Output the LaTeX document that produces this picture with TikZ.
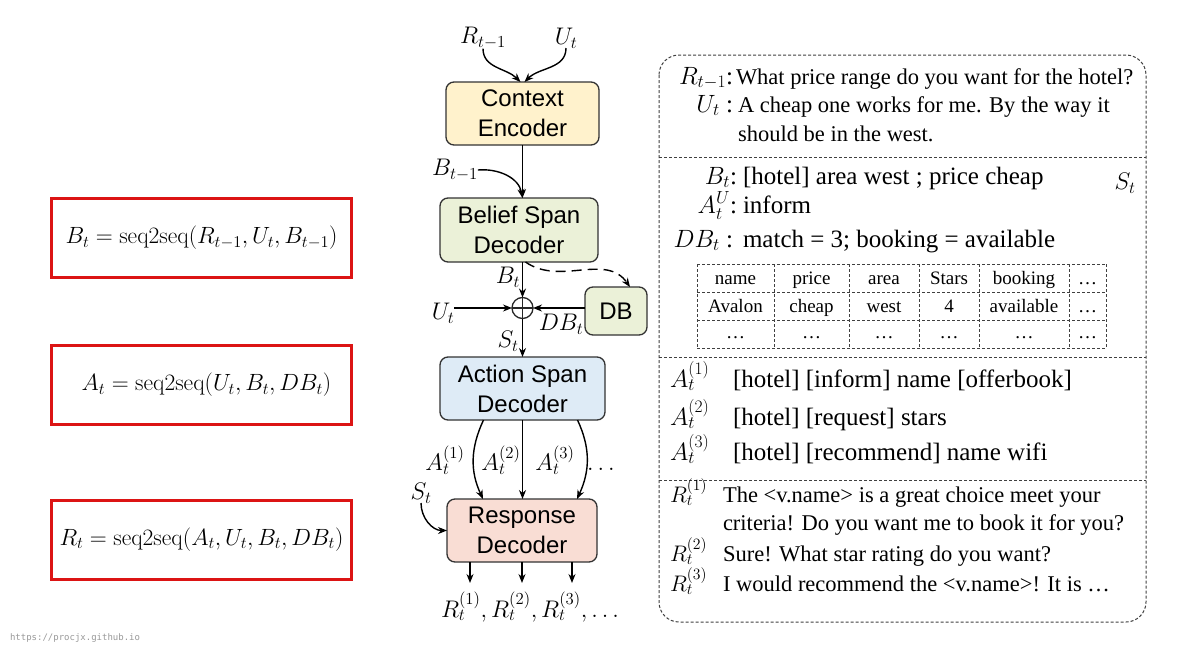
\RequirePackage{fix-cm}
\documentclass[tikz,border=0pt]{standalone}
\usepackage[no-math]{fontspec}
\setmainfont{Liberation Serif}
\setsansfont{Liberation Sans}
\setmonofont{DejaVu Sans Mono}
\usetikzlibrary{arrows.meta}
\definecolor{encfill}{RGB}{255,242,204}
\definecolor{blffill}{RGB}{235,241,216}
\definecolor{actfill}{RGB}{222,235,246}
\definecolor{resfill}{RGB}{249,221,212}
\definecolor{eqred}{RGB}{220,20,20}
\begin{document}
\begin{tikzpicture}[x=1pt,y=1pt,
every node/.style={inner sep=0pt, outer sep=0pt},
block/.style={draw=black!80, line width=1.3pt, rounded corners=8pt, align=center, font=\sffamily\fontsize{24}{30}\selectfont},
lab/.style={font=\fontsize{24}{26}\selectfont},
eqbox/.style={draw=eqred, line width=3pt, minimum width=300pt, minimum height=79pt, font=\fontsize{23.5}{26}\selectfont},
flow/.style={line width=1.4pt, -{Stealth[length=9pt,width=7pt]}},
panel/.style={line width=1pt, black!75, dash pattern=on 3pt off 2pt},
key/.style={anchor=base east, font=\fontsize{25}{27}\selectfont},
say/.style={anchor=base west, font=\fontsize{22.5}{24}\selectfont},
big/.style={anchor=base west, font=\fontsize{25}{27}\selectfont},
cell/.style={anchor=base, font=\fontsize{19}{21}\selectfont}
]

\fill[white] (0,0) rectangle (1181,-648);
\useasboundingbox (0,0) rectangle (1181,-648);

\path
(201.5,-238) node[eqbox] (eqb) {$B_t=\mathrm{seq2seq}(R_{t-1},U_t,B_{t-1})$}
(201.5,-385) node[eqbox] (eqa) {\hspace*{10pt}$A_t=\mathrm{seq2seq}(U_t,B_t,DB_t)$}
(201.5,-539.5) node[eqbox] (eqr) {$R_t=\mathrm{seq2seq}(A_t,U_t,B_t,DB_t)$}
;

\node[block, fill=encfill, minimum width=153pt, minimum height=63pt] (ctx) at (522.5,-113.5) {Context\\Encoder};
\node[block, fill=blffill, minimum width=158pt, minimum height=64pt] (belief) at (519,-230) {Belief Span\\Decoder};
\node[block, fill=blffill, minimum width=62pt, minimum height=48pt] (db) at (616,-311) {DB};
\node[draw=black!85, line width=1.3pt, circle, minimum size=21pt] (plus) at (522.5,-308) {};
\draw[line width=1.3pt, black!85] (plus.north) -- (plus.south) (plus.west) -- (plus.east);
\node[block, fill=actfill, minimum width=165pt, minimum height=63pt] (action) at (522.5,-388.5) {Action Span\\Decoder};
\node[block, fill=resfill, minimum width=150pt, minimum height=63pt] (resp) at (522,-530.5) {Response\\Decoder};

\node[lab] (rprev) at (483,-38) {$R_{t-1}$};
\node[lab] (uin) at (566,-38) {$U_t$};
\node[lab] (bprev) at (455,-170) {$B_{t-1}$};
\node[lab] (bcur) at (508,-277) {$B_t$};
\node[lab] (uside) at (443,-313) {$U_t$};
\node[lab] (dbcur) at (561,-324) {$DB_t$};
\node[lab] (scur) at (508,-341) {$S_t$};
\node[lab] (aone) at (445,-460) {$A_t^{(1)}$};
\node[lab] (atwo) at (501,-460) {$A_t^{(2)}$};
\node[lab] (athree) at (555,-460) {$A_t^{(3)}$};
\node[lab] (adots) at (601,-469) {$\dots$};
\node[lab] (sside) at (421,-493) {$S_t$};
\node[lab] (rout) at (530,-607) {$R_t^{(1)},R_t^{(2)},R_t^{(3)},\dots$};

\draw[flow] (rprev.south) to[out=-90,in=135] ([xshift=-2pt]ctx.north);
\draw[flow] (uin.south) to[out=-90,in=45] ([xshift=2pt]ctx.north);
\draw[flow] (ctx.south) -- (ctx.south |- belief.north);
\draw[flow] (bprev.east) to[out=5,in=100] (ctx.south |- belief.north);
\draw[flow] (ctx.south |- belief.south) -- (plus.north);
\draw[flow, dash pattern=on 10pt off 6pt] ([xshift=3pt]ctx.south |- belief.south) to[out=-35,in=125] ([xshift=14pt]db.north);
\draw[flow] (uside.east |- plus.west) -- (plus.west);
\draw[flow] (db.west |- plus.east) -- (plus.east);
\draw[flow] (plus.south) -- (action.north);
\draw[flow] ([xshift=-39pt]action.south) to[out=-115,in=115] ([xshift=-39pt]resp.north);
\draw[flow] (action.south) -- (action.south |- resp.north);
\draw[flow] ([xshift=55pt]action.south) to[out=-65,in=65] ([xshift=55pt]resp.north);
\draw[flow] (sside.south) to[out=-90,in=180] (resp.west);
\foreach \dx in {-52,0,50}
    \draw[flow] ([xshift=\dx pt]resp.south) -- ++(0,-21);

\draw[panel, rounded corners=20pt] (659,-55) rectangle (1146,-622);
\foreach \y in {157,357,480}
    \draw[panel] (659,-\y) -- (1146,-\y);

\node[key] (kr) at (733,-84) {$R_{t-1}$:};
\node[say] (tr) at (736,-84) {What price range do you want for the hotel?};
\node[key] (ku) at (733,-112) {$U_t$ :};
\node[say] (tu) at (738,-112) {A cheap one works for me. By the way it};
\node[say] (tu2) at (738,-141) {should be in the west.};

\node[key] (kb) at (737,-184) {$B_t$:};
\node[big] (tb) at (743,-184) {[hotel] area west ; price cheap};
\node[lab] (ks) at (1125,-183) {$S_t$};
\node[key] (ka) at (737,-213) {$A_t^U$:};
\node[big] (ta) at (743,-213) {inform};
\node[key] (kd) at (733,-247) {$DB_t$ :};
\node[big] (td) at (743,-247) {match = 3; booking = available};

\foreach \y in {264,292,320,348}
    \draw[panel] (697,-\y) -- (1106,-\y);
\foreach \x in {697,774,849,919,979,1069,1106}
    \draw[panel] (\x,-264) -- (\x,-348);
\foreach \x/\a/\b [count=\i] in {735.5/name/Avalon, 811.5/price/cheap, 884/area/west, 949/Stars/4, 1024/booking/available, 1087.5/…/…}
{
    \node[cell] (head\i) at (\x,-284) {\a};
    \node[cell] (row\i) at (\x,-312) {\b};
    \node[cell] (more\i) at (\x,-338) {…};
}

\node[say, font=\fontsize{25}{27}\selectfont] (ka1) at (670,-387) {$A_t^{(1)}$};
\node[big] (ta1) at (733,-387) {[hotel] [inform] name [offerbook]};
\node[say, font=\fontsize{25}{27}\selectfont] (ka2) at (670,-425) {$A_t^{(2)}$};
\node[big] (ta2) at (733,-425) {[hotel] [request] stars};
\node[say, font=\fontsize{25}{27}\selectfont] (ka3) at (670,-460) {$A_t^{(3)}$};
\node[big] (ta3) at (733,-460) {[hotel] [recommend] name wifi};

\node[say] (kr1) at (670,-502) {$R_t^{(1)}$};
\node[say] (tr1) at (723,-502) {The \textless v.name\textgreater{} is a great choice meet your};
\node[say] (tr1b) at (723,-530) {criteria! Do you want me to book it for you?};
\node[say] (kr2) at (670,-561) {$R_t^{(2)}$};
\node[say] (tr2) at (723,-561) {Sure! What star rating do you want?};
\node[say] (kr3) at (670,-591) {$R_t^{(3)}$};
\node[say] (tr3) at (723,-591) {I would recommend the \textless v.name\textgreater! It is …};

\node[anchor=west, font=\ttfamily\fontsize{9}{10}\selectfont, text=black!40] (mark) at (10,-638) {https://procjx.github.io};

\end{tikzpicture}
\end{document}
